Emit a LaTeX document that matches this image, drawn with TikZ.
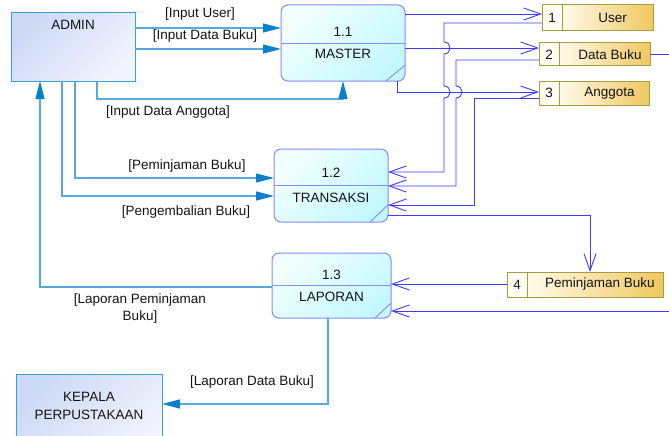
\documentclass[tikz,border=0pt]{standalone}
\usepackage{fontspec}
\setmainfont{Liberation Sans}
\usetikzlibrary{arrows.meta,calc}

\definecolor{extline}{RGB}{86,170,218}
\definecolor{extarrow}{RGB}{10,128,200}
\definecolor{intline}{RGB}{60,60,255}
\definecolor{procborder}{RGB}{136,136,255}
\definecolor{proctop}{RGB}{242,255,255}
\definecolor{procbot}{RGB}{196,248,255}
\definecolor{entborder}{RGB}{60,160,216}
\definecolor{entA}{RGB}{204,217,245}
\definecolor{entB}{RGB}{242,243,253}
\definecolor{storeborder}{RGB}{166,158,60}
\definecolor{storeL}{RGB}{255,250,236}
\definecolor{storeR}{RGB}{240,200,96}
\definecolor{storenum}{RGB}{255,254,244}
\definecolor{txt}{RGB}{20,20,20}

\tikzset{
  box/.style={inner sep=0pt, outer sep=0pt},
  entity/.style={box, draw=entborder, line width=1pt,
    top color=entA, bottom color=entB, shading angle=45},
  process/.style={box, draw=procborder, line width=1pt, rounded corners=7pt,
    top color=proctop, bottom color=procbot, shading angle=45},
  procline/.style={draw=procborder, line width=0.9pt},
  storenumcell/.style={box, draw=storeborder, line width=1pt, fill=storenum,
    minimum width=20pt},
  storecell/.style={box, draw=storeborder, line width=1pt,
    left color=storeL, right color=storeR},
  lbl/.style={inner sep=0pt, text=txt},
  ext/.style={draw=extline, line width=1.3pt,
    -{Triangle[length=18pt,width=9pt,color=extarrow]}},
  int/.style={draw=intline, line width=0.9pt,
    -{Straight Barb[length=17pt,width=12pt]}},
}

\begin{document}
\begin{tikzpicture}[x=1pt, y=-1pt, font=\fontsize{13.5}{16}\selectfont]
\useasboundingbox (0,0) rectangle (669,436);
\clip (0,0) rectangle (669,436);

% external entities
\node[entity, minimum width=124pt, minimum height=68pt] (admin) at (73,47) {};
\node[lbl] (admintxt) at (73,25) {ADMIN};
\node[entity, minimum width=146pt, minimum height=80pt] (kepala) at (89,414) {};
\node[lbl, align=center, font=\fontsize{13.5}{18}\selectfont] (kepalatxt) at (89,406) {KEPALA\\PERPUSTAKAAN};

% processes
\node[process, minimum width=124pt, minimum height=76pt] (master) at (343,43) {};
\draw[procline] (master.west) -- (master.east);
\draw[procline] ($(master.south east)+(-19,0)$) -- ($(master.south east)+(0,-16)$);
\node[lbl] (masterno) at (343,32) {1.1};
\node[lbl] (mastername) at (343,54) {MASTER};

\node[process, minimum width=114pt, minimum height=73pt] (trans) at (331,185.5) {};
\draw[procline] (trans.west) -- (trans.east);
\draw[procline] ($(trans.south east)+(-18,0)$) -- ($(trans.south east)+(0,-17)$);
\node[lbl] (transno) at (331,173) {1.2};
\node[lbl] (transname) at (331,198) {TRANSAKSI};

\node[process, minimum width=119pt, minimum height=65pt] (lap) at (331.5,285.5) {};
\draw[procline] (lap.west) -- (lap.east);
\draw[procline] ($(lap.south east)+(-16,0)$) -- ($(lap.south east)+(0,-15)$);
\node[lbl] (lapno) at (331.5,275) {1.3};
\node[lbl] (lapname) at (331.5,297) {LAPORAN};

% data stores
\node[storenumcell, minimum height=26pt] (s1n) at (552,18) {};
\node[storecell, minimum width=91pt, minimum height=26pt] (s1) at (607.5,18) {};
\node[lbl] (s1no) at (s1n) {1};
\node[lbl] (s1name) at (612.5,18) {User};

\node[storenumcell, minimum height=23pt] (s2n) at (549,54.5) {};
\node[storecell, minimum width=91pt, minimum height=23pt] (s2) at (604.5,54.5) {};
\node[lbl] (s2no) at (s2n) {2};
\node[lbl] (s2name) at (610,54.5) {Data Buku};

\node[storenumcell, minimum height=24pt] (s3n) at (549,93) {};
\node[storecell, minimum width=90pt, minimum height=24pt] (s3) at (604,93) {};
\node[lbl] (s3no) at (s3n) {3};
\node[lbl] (s3name) at (609.5,93) {Anggota};

\node[storenumcell, minimum height=25pt] (s4n) at (517,284.5) {};
\node[storecell, minimum width=136pt, minimum height=25pt] (s4) at (595,284.5) {};
\node[lbl] (s4no) at (s4n) {4};
\node[lbl] (s4name) at (600,284.5) {Peminjaman Buku};

% flows between external entities and processes
\draw[ext] (admin.east |- 0,28) -- (master.west |- 0,28);
\draw[ext] (admin.east |- 0,49) -- (master.west |- 0,49);
\draw[ext] (admin.south -| 97,0) -- (97,99) -- (343,99) -- (master.south);
\draw[ext] (admin.south -| 75,0) -- (75,178) -- (trans.west |- 0,178);
\draw[ext] (admin.south -| 62,0) -- (62,196) -- (trans.west |- 0,196);
\draw[ext] (lap.west |- 0,287) -- (40,287) -- (admin.south -| 40,0);
\draw[ext] (lap.south -| 328,0) -- (328,404) -- (kepala.east |- 0,404);

\node[lbl] (l1) at (200,14) {[Input User]};
\node[lbl] (l2) at (205,36) {[Input Data Buku]};
\node[lbl] (l3) at (168,112) {[Input Data Anggota]};
\node[lbl] (l4) at (187,166) {[Peminjaman Buku]};
\node[lbl] (l5) at (186,212) {[Pengembalian Buku]};
\node[lbl, align=center, font=\fontsize{13.5}{17}\selectfont] (l6) at (140,309) {[Laporan Peminjaman\\Buku]};
\node[lbl] (l7) at (252,382) {[Laporan Data Buku]};

% flows between processes and data stores
\draw[int] (master.east |- 0,14) -- (s1n.west |- 0,14);
\draw[int] (master.east |- 0,48) -- (s2n.west |- 0,48);
\draw[int] (master.south -| 397,0) -- (397,92) -- (s3n.west |- 0,92);
\draw[int] (s1n.west |- 0,23) -- (444,23) -- (444,42)
  .. controls (452,42) and (452,54) .. (444,54) -- (444,86)
  .. controls (452,86) and (452,98) .. (444,98) -- (444,172) -- (trans.east |- 0,172);
\draw[int] (s2n.west |- 0,60) -- (456,60) -- (456,86)
  .. controls (464,86) and (464,98) .. (456,98) -- (456,186) -- (trans.east |- 0,186);
\draw[int] (s3n.west |- 0,98) -- (474,98) -- (474,205) -- (trans.east |- 0,205);
\draw[int] (trans.east |- 0,215) -- (590,215) -- (s4.north -| 590,0);
\draw[int] (s4n.west |- 0,284) -- (lap.east |- 0,284);
\draw[int] (s2.east |- 0,54) -- (690,54) -- (690,311) -- (lap.east |- 0,311);
\end{tikzpicture}
\end{document}
